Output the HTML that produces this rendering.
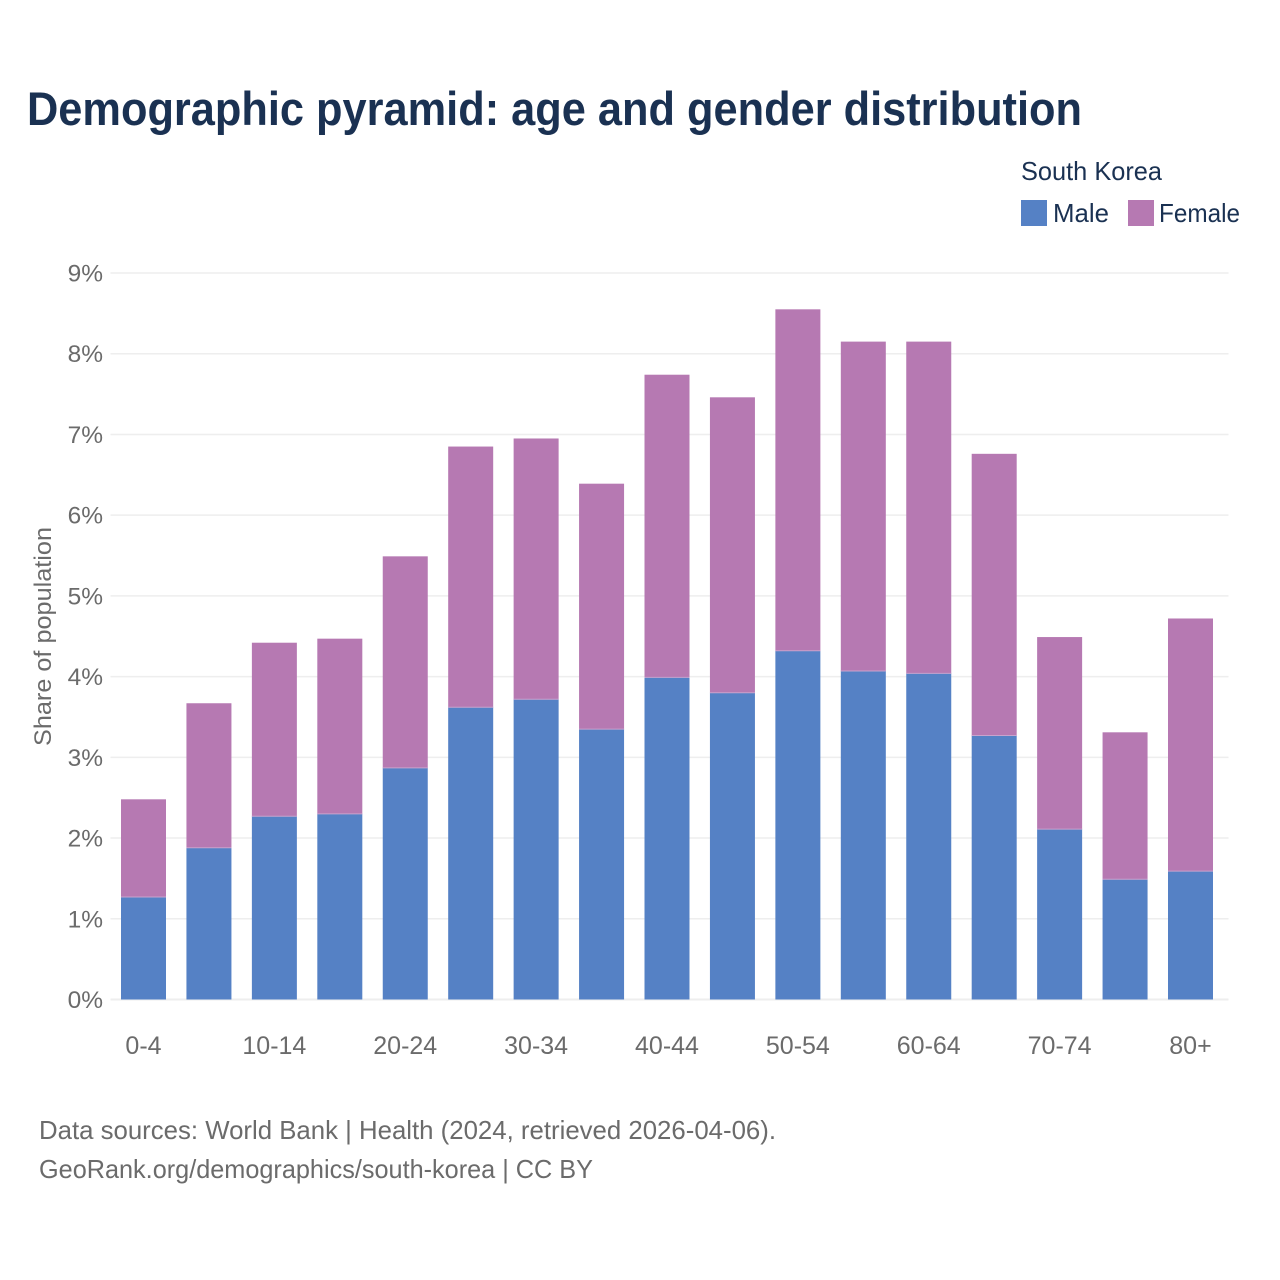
<!DOCTYPE html>
<html lang="en">
<head>
<meta charset="utf-8">
<title>Demographic pyramid: age and gender distribution</title>
<style>
html,body{margin:0;padding:0;background:#fff;}
svg{display:block;font-family:"Liberation Sans",sans-serif;}
</style>
</head>
<body>
<svg id="chart" width="1280" height="1280" viewBox="0 0 1280 1280" xmlns="http://www.w3.org/2000/svg">
  <rect x="0" y="0" width="1280" height="1280" fill="#ffffff"/>
  <text x="27" y="125" font-size="47" font-weight="700" fill="#1a3152" textLength="1055" lengthAdjust="spacingAndGlyphs">Demographic pyramid: age and gender distribution</text>
  <g>
    <text x="1021" y="180" font-size="26" fill="#1a3152" textLength="141" lengthAdjust="spacingAndGlyphs">South Korea</text>
    <rect x="1021" y="200" width="26" height="26" fill="#5581c5"/>
    <text x="1053" y="222" font-size="26" fill="#1a3152" textLength="56" lengthAdjust="spacingAndGlyphs">Male</text>
    <rect x="1128" y="200" width="26" height="26" fill="#b679b2"/>
    <text x="1159" y="222" font-size="26" fill="#1a3152" textLength="81" lengthAdjust="spacingAndGlyphs">Female</text>
  </g>
  <g id="grid"></g>
  <g id="yticks"></g>
  <g id="bars"></g>
  <g id="xticks"></g>
  <text transform="translate(51,746) rotate(-90)" font-size="24" fill="#6b6b6b" textLength="219" lengthAdjust="spacingAndGlyphs">Share of population</text>
  <text x="39" y="1139" font-size="26" fill="#6b6b6b" textLength="737" lengthAdjust="spacingAndGlyphs">Data sources: World Bank | Health (2024, retrieved 2026-04-06).</text>
  <text x="39" y="1178" font-size="26" fill="#6b6b6b" textLength="554" lengthAdjust="spacingAndGlyphs">GeoRank.org/demographics/south-korea | CC BY</text>
</svg>
<script>
const categories = ["0-4","5-9","10-14","15-19","20-24","25-29","30-34","35-39","40-44","45-49","50-54","55-59","60-64","65-69","70-74","75-79","80+"];
const categoryLabels = ["0-4","","10-14","","20-24","","30-34","","40-44","","50-54","","60-64","","70-74","","80+"];
const maleValues = [1.27,1.88,2.27,2.30,2.87,3.62,3.72,3.35,3.99,3.80,4.32,4.07,4.04,3.27,2.11,1.49,1.59];
const femaleValues = [1.21,1.79,2.15,2.17,2.62,3.23,3.23,3.04,3.75,3.66,4.23,4.08,4.11,3.49,2.38,1.82,3.13];
const yTickValues = [0,1,2,3,4,5,6,7,8,9];

const NS = "http://www.w3.org/2000/svg";
const plotLeft = 110.5, plotRight = 1228.5, plotBottom = 999.5, plotTop = 273;
const yMax = 9;
const band = (1168 - 121) / (categories.length - 1);
const barWidth = 45;

function yScale(v) {
  return plotBottom - (v / yMax) * (plotBottom - plotTop);
}
function xScale(i) {
  return 121 + band * i;
}
function make(tag, attrs) {
  const el = document.createElementNS(NS, tag);
  for (const k in attrs) el.setAttribute(k, attrs[k]);
  return el;
}

const grid = document.getElementById("grid");
const yticks = document.getElementById("yticks");
yTickValues.forEach(function (t) {
  const line = make("line", {
    x1: plotLeft, x2: plotRight, y1: yScale(t), y2: yScale(t),
    stroke: "#eeeeee", "stroke-width": t === 0 ? 2 : 1.5
  });
  
  
  grid.appendChild(line);
  const label = make("text", {
    x: 103, y: yScale(t) + 8.5, "text-anchor": "end",
    "font-size": 24.5, fill: "#6b6b6b"
  });
  
  
  label.textContent = t + "%";
  yticks.appendChild(label);
});

const bars = document.getElementById("bars");
const xticks = document.getElementById("xticks");
categories.forEach(function (c, i) {
  const male = maleValues[i];
  const female = femaleValues[i];
  const maleRect = make("rect", {
    x: xScale(i), y: yScale(male), width: barWidth,
    height: yScale(0) - yScale(male), fill: "#5581c5"
  });
  
  
  bars.appendChild(maleRect);
  const femaleRect = make("rect", {
    x: xScale(i), y: yScale(male + female), width: barWidth,
    height: yScale(male) - yScale(male + female), fill: "#b679b2"
  });
  
  
  bars.appendChild(femaleRect);
  const sep = make("line", {
    x1: xScale(i), x2: xScale(i) + barWidth, y1: yScale(male), y2: yScale(male),
    stroke: "#c9a3cd", "stroke-width": 1
  });
  
  
  bars.appendChild(sep);
  if (categoryLabels[i]) {
    const label = make("text", {
      x: xScale(i) + barWidth / 2, y: 1054, "text-anchor": "middle",
      "font-size": 25, fill: "#6b6b6b"
    });
    
    
    label.textContent = categoryLabels[i];
    xticks.appendChild(label);
  }
});
</script>
</body>
</html>
